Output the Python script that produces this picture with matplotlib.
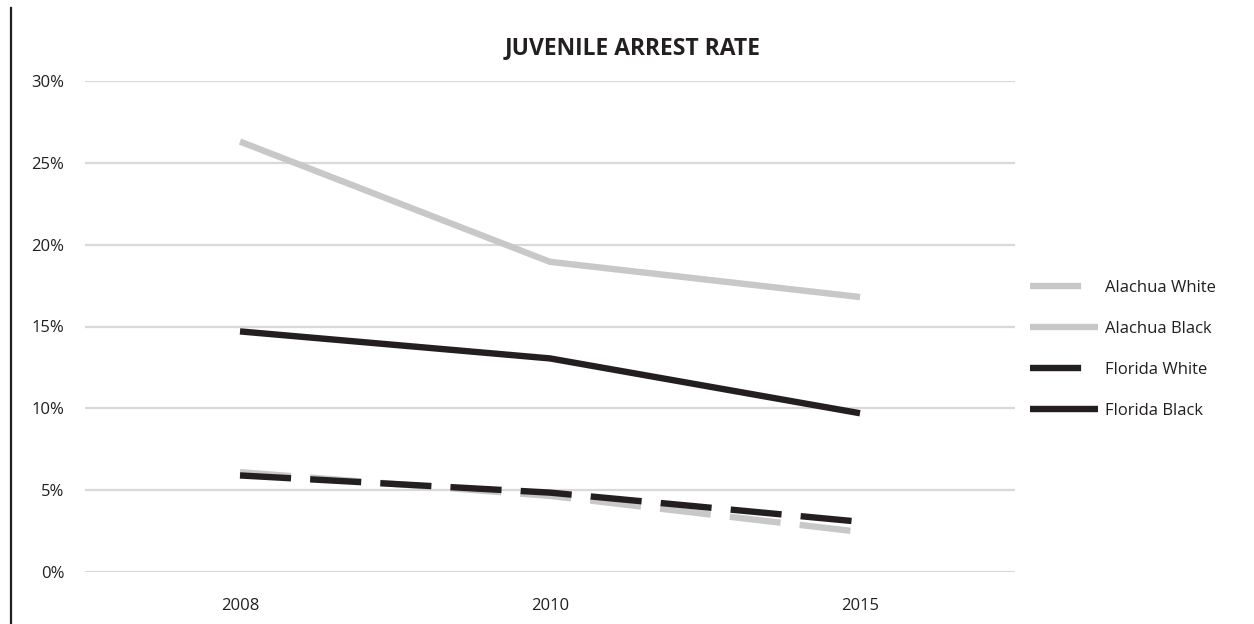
import matplotlib
matplotlib.use("Agg")
import matplotlib.pyplot as plt
from matplotlib.lines import Line2D
from matplotlib.ticker import FuncFormatter

plt.rcParams['font.family'] = ['Open Sans', 'DejaVu Sans']

years = ['2008', '2010', '2015']
alachua_white = [0.061, 0.0465, 0.0245]
alachua_black = [0.263, 0.1895, 0.168]
florida_white = [0.059, 0.0485, 0.0307]
florida_black = [0.147, 0.1305, 0.097]

gray = '#c8c8c8'
dark = '#231f20'

W, H = 1254, 624
fig = plt.figure(figsize=(W / 100, H / 100), dpi=100)
ax = fig.add_axes([85 / W, 1 - 572 / H, (1015 - 85) / W, (572 - 81) / H])

x = range(len(years))
lw = 4.6
ax.plot(x, alachua_white, color=gray, lw=lw, dashes=(8, 3), solid_capstyle='butt',
        dash_capstyle='butt', label='Alachua White')
ax.plot(x, alachua_black, color=gray, lw=lw, solid_capstyle='butt', label='Alachua Black')
ax.plot(x, florida_white, color=dark, lw=lw, dashes=(8, 3), solid_capstyle='butt',
        dash_capstyle='butt', label='Florida White')
ax.plot(x, florida_black, color=dark, lw=lw, solid_capstyle='butt', label='Florida Black')

ax.set_xlim(-0.5, len(years) - 0.5)
ax.set_ylim(0, 0.30)
ax.set_yticks([0, 0.05, 0.10, 0.15, 0.20, 0.25, 0.30])
ax.yaxis.set_major_formatter(FuncFormatter(lambda v, p: '{:.0f}%'.format(v * 100)))
ax.set_xticks(list(x))
ax.set_xticklabels(years)
ax.grid(axis='y', color='#d9d9d9', lw=1.6)
ax.set_axisbelow(True)
for s in ax.spines.values():
    s.set_visible(False)
ax.tick_params(length=0, labelsize=12, colors='#231f20')
ax.tick_params(axis='y', pad=15)
ax.tick_params(axis='x', pad=19)

fig.text(633 / W, 1 - 48 / H, 'JUVENILE ARREST RATE', ha='center', va='center',
         fontsize=16.5, fontweight='bold', color='#231f20')

fig.legend(loc='upper left', bbox_to_anchor=(1030 / W, 1 - 280 / H), frameon=False,
           borderpad=0, borderaxespad=0, handlelength=4.07, handletextpad=0.42,
           labelspacing=1.5, fontsize=12, labelcolor='#231f20')

fig.add_artist(Line2D([11 / W, 11 / W], [0, 1 - 8 / H], color='#231f20', lw=1.6,
                      transform=fig.transFigure))

fig.savefig('out.png', dpi=100)
